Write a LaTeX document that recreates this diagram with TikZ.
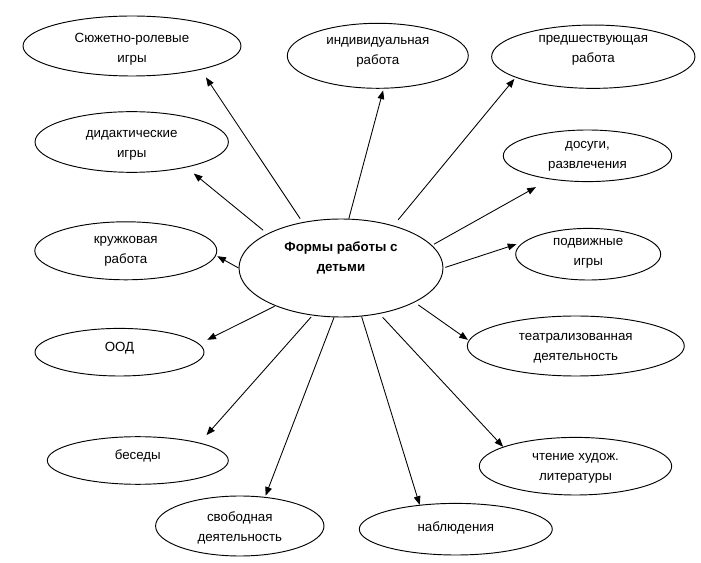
\documentclass[tikz,border=0pt]{standalone}
\usepackage{fontspec}
\setmainfont{Liberation Sans}
\usetikzlibrary{arrows.meta,shapes.geometric}
\tikzset{
  ell/.style={draw=black, line width=0.7pt, ellipse, inner sep=0pt, fill=white},
  txt/.style={font=\fontsize{10}{15}\selectfont, align=center, inner sep=0pt},
  arr/.style={draw=black, line width=0.65pt, -{Triangle[length=6.5pt,width=5pt]}},
}
\begin{document}
\begin{tikzpicture}[x=0.75pt, y=-0.75pt]
\useasboundingbox (0,0) rectangle (701,563);
% central
\node[ell, minimum width=153pt, minimum height=73.5pt,
  label={[txt, font=\fontsize{10}{15.5}\selectfont\bfseries, yshift=7.5pt]center:{Формы работы с\\детьми}}] (c) at (341,268) {};
% outer ellipses
\node[ell, minimum width=163.5pt, minimum height=45pt,
  label={[txt, yshift=-2.2pt]center:{Сюжетно-ролевые\\игры}}] (s1) at (132,46) {};
\node[ell, minimum width=145pt, minimum height=45.5pt,
  label={[txt, yshift=-2.2pt]center:{дидактические\\игры}}] (s2) at (131.7,142) {};
\node[ell, minimum width=136.5pt, minimum height=43.5pt,
  label={[txt, yshift=-0.7pt]center:{кружковая\\работа}}] (s3) at (125.8,250.8) {};
\node[ell, minimum width=126.75pt, minimum height=35.7pt,
  label={[txt, yshift=3pt]center:{ООД}}] (s4) at (119.5,352.2) {};
\node[ell, minimum width=135.75pt, minimum height=35.7pt,
  label={[txt, yshift=3.4pt]center:{беседы}}] (s5) at (137.8,460.5) {};
\node[ell, minimum width=126.3pt, minimum height=45pt,
  label={[txt, yshift=-1.5pt]center:{свободная\\деятельность}}] (s6) at (239.8,526) {};
\node[ell, minimum width=144.75pt, minimum height=38.7pt,
  label={[txt, yshift=0.7pt]center:{наблюдения}}] (s7) at (455.8,529.2) {};
\node[ell, minimum width=144.3pt, minimum height=43.2pt,
  label={[txt, yshift=-1.7pt]center:{чтение худож.\\литературы}}] (s8) at (575.5,466.2) {};
\node[ell, minimum width=162.75pt, minimum height=45pt,
  label={[txt, yshift=-1.5pt]center:{театрализованная\\деятельность}}] (s9) at (575.8,346) {};
\node[ell, minimum width=108.75pt, minimum height=38.7pt,
  label={[txt, yshift=0.9pt]center:{подвижные\\игры}}] (s10) at (588.2,254.2) {};
\node[ell, minimum width=126.3pt, minimum height=38.7pt,
  label={[txt]center:{досуги,\\развлечения}}] (s11) at (587.5,155.8) {};
\node[ell, minimum width=152.5pt, minimum height=47.5pt,
  label={[txt, yshift=5pt]center:{предшествующая\\работа}}] (s12) at (593.3,56.7) {};
\node[ell, minimum width=135.75pt, minimum height=48.75pt,
  label={[txt, yshift=3pt]center:{индивидуальная\\работа}}] (s13) at (377.8,55.8) {};
% connectors
\draw[arr, shorten <=3.2pt, shorten >=7pt] (c.130.4) -- (s1.-19.0);
\draw[arr, shorten <=4pt, shorten >=7.2pt] (c.155.5) -- (s2.-25.0);
\draw[arr, shorten >=1pt] (c.180) -- (s3.-3.3);
\draw[arr, shorten <=0.6pt, shorten >=6.75pt] (c.210) -- (s4.6.6);
\draw[arr, shorten <=1.5pt, shorten >=7.6pt] (c.239.4) -- (s5.16.8);
\draw[arr, shorten >=1pt] (c.262.9) -- (s6.49.3);
\draw[arr] (c.293.6) -- (s7.146.6);
\draw[arr, shorten <=3.5pt] (c.310.9) -- (s8.165.6);
\draw[arr, shorten <=3.3pt, shorten >=0.75pt] (c.335.9) -- (s9.177.1);
\draw[arr, shorten <=1.5pt, shorten >=6pt] (c.0) -- (s10.169.9);
\draw[arr, shorten <=1.8pt, shorten >=12pt] (c.14.8) -- (s11.212.4);
\draw[arr, shorten <=5.5pt, shorten >=1.35pt] (c.39.6) -- (s12.195.3);
\draw[arr, shorten >=1.35pt] (c.81.2) -- (s13.280.5);
\end{tikzpicture}
\end{document}
